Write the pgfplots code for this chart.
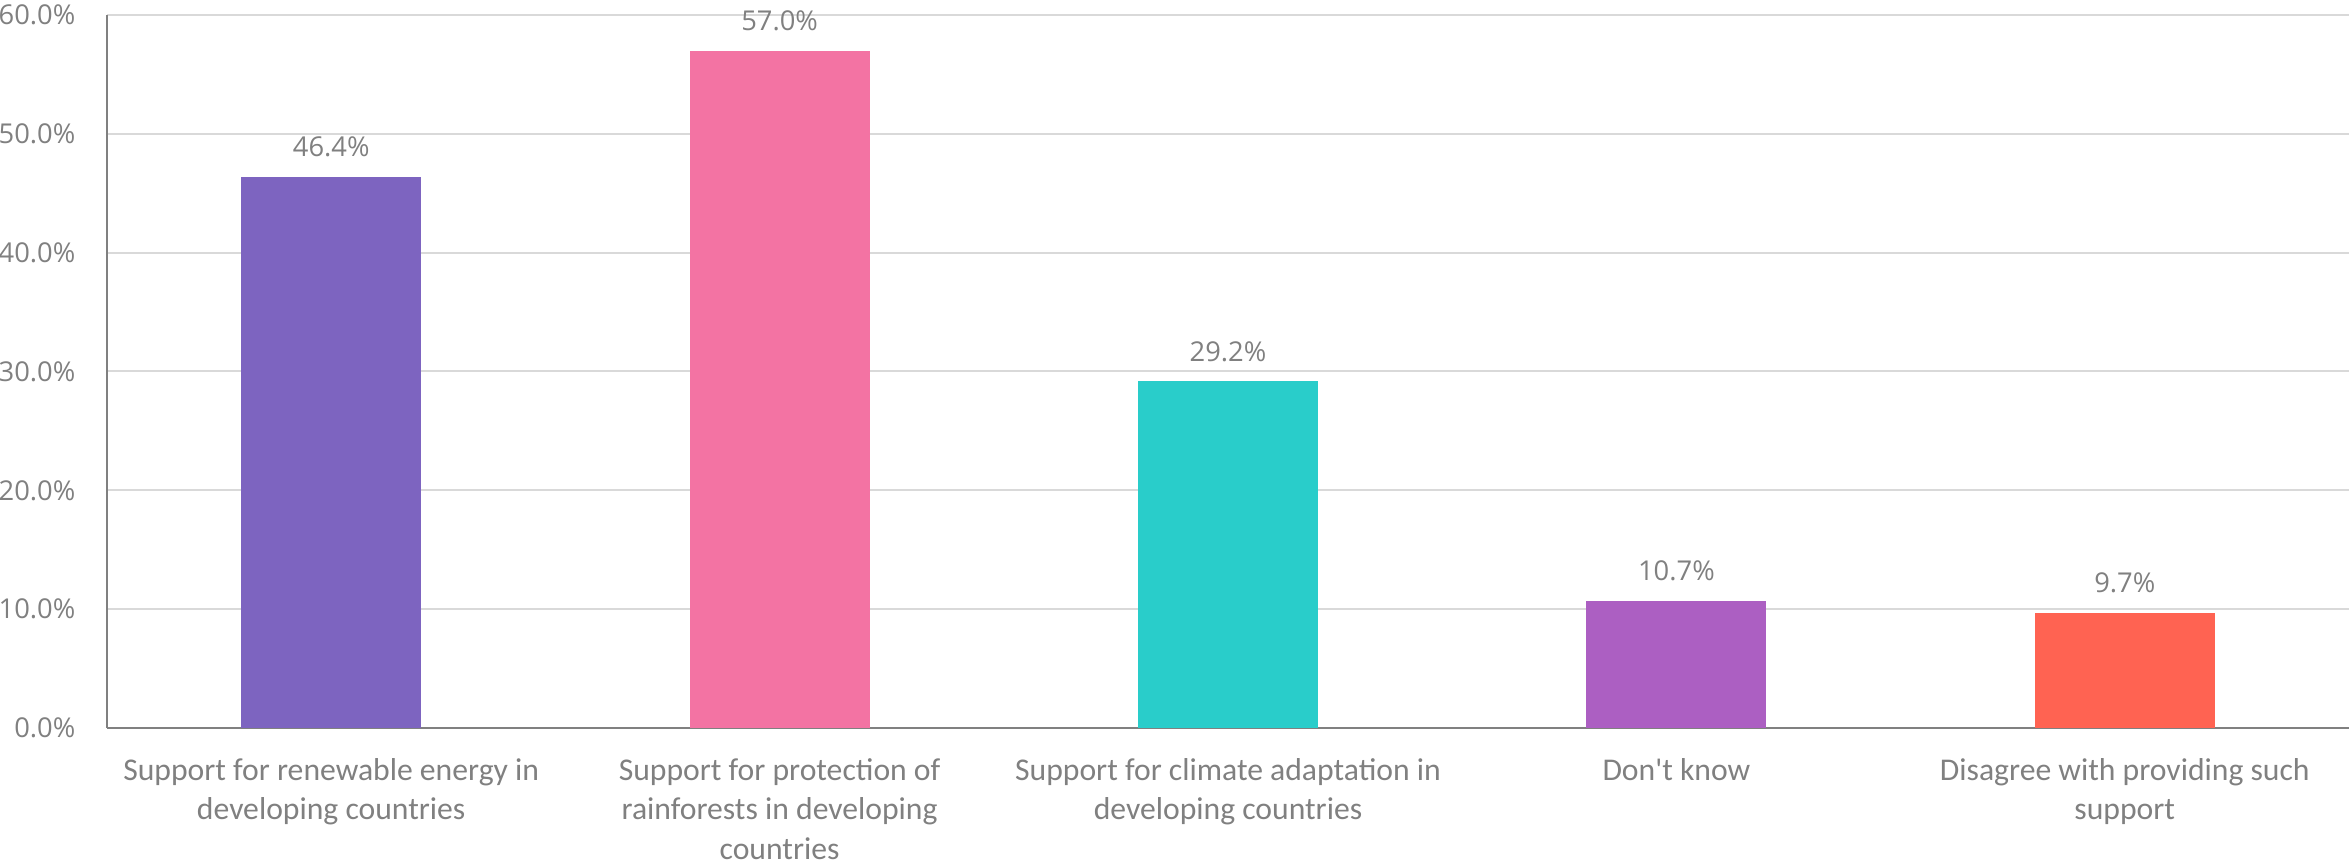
\documentclass[border=0pt]{standalone}
\usepackage{fontspec}
\setmainfont{Carlito}
\newfontfamily\numfont{Open Sans}
\usepackage{pgfplots}
\pgfplotsset{compat=1.18}

\definecolor{txtgray}{RGB}{128,128,128}
\definecolor{gridgray}{RGB}{217,217,217}
\definecolor{axisgray}{RGB}{128,128,128}
\definecolor{cRenew}{RGB}{125,100,192}
\definecolor{cForest}{RGB}{243,115,163}
\definecolor{cAdapt}{RGB}{41,205,202}
\definecolor{cDontKnow}{RGB}{172,95,194}
\definecolor{cDisagree}{RGB}{255,99,82}

\begin{document}
\begin{tikzpicture}
\begin{axis}[
  at={(0,0)}, anchor=south west,
  scale only axis, width=672.6pt, height=213.9pt,
  xmin=-0.5, xmax=4.5, ymin=0, ymax=60,
  ybar, bar width=54pt, bar shift=0pt,
  axis x line=bottom, axis y line=left,
  axis line style={-, draw=axisgray, line width=0.6pt},
  ymajorgrids, grid style={draw=gridgray, line width=0.6pt},
  major tick length=0pt,
  ytick={0,10,...,60},
  /pgf/number format/assume math mode=true,
  yticklabel={\pgfmathprintnumber[fixed,fixed zerofill,precision=1]{\tick}\%},
  yticklabel style={font=\numfont\fontsize{8.2}{10}\selectfont, text=txtgray,
    anchor=east, inner sep=0pt, xshift=-9.3pt},
  xtick={0,...,4},
  xticklabels={
    {Support for renewable energy in\\developing countries},
    {Support for protection of\\rainforests in developing\\countries},
    {Support for climate adaptation in\\developing countries},
    {Don\textquotesingle t know},
    {Disagree with providing such\\support}},
  xticklabel style={font=\fontsize{9.5}{11.8}\selectfont, text=txtgray,
    align=center, inner sep=0pt, anchor=north, yshift=-9pt},
  nodes near coords={\pgfmathprintnumber[fixed,fixed zerofill,precision=1]{\pgfplotspointmeta}\%},
  nodes near coords style={font=\numfont\fontsize{8.2}{10}\selectfont, text=txtgray,
    anchor=base, inner sep=0pt, yshift=6pt},
]
\addplot[fill=cRenew, draw=none] coordinates {(0,46.4)};
\addplot[fill=cForest, draw=none] coordinates {(1,57.0)};
\addplot[fill=cAdapt, draw=none] coordinates {(2,29.2)};
\addplot[fill=cDontKnow, draw=none] coordinates {(3,10.7)};
\addplot[fill=cDisagree, draw=none] coordinates {(4,9.7)};
\end{axis}
\pgfresetboundingbox
\path (-32.1pt,-41.1pt) rectangle (672.6pt,218.4pt);
\end{tikzpicture}
\end{document}
